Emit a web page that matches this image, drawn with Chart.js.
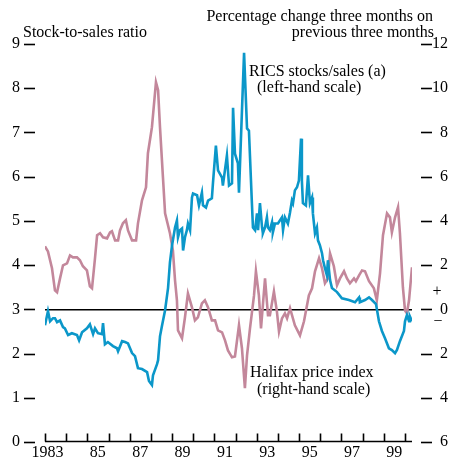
<!DOCTYPE html>
<html>
<head>
<meta charset="utf-8">
<script src="https://cdn.jsdelivr.net/npm/chart.js@4.4.1/dist/chart.umd.min.js"></script>
<style>
  body { margin: 0; background: #fff; }
  canvas { display: block; }
</style>
</head>
<body>
<canvas id="grafico" width="452" height="457"></canvas>
<script>
// RICS stocks/sales ratio (left-hand scale)
const ricsYears = [1983.00, 1983.14, 1983.24, 1983.38, 1983.47, 1983.57, 1983.71, 1983.85, 1983.94, 1984.09,
  1984.27, 1984.51, 1984.61, 1984.75, 1984.98, 1985.12, 1985.27, 1985.36, 1985.50, 1985.69,
  1985.74, 1985.83, 1985.97, 1986.21, 1986.40, 1986.45, 1986.64, 1986.78, 1986.92, 1987.11,
  1987.25, 1987.39, 1987.58, 1987.82, 1987.91, 1988.05, 1988.10, 1988.29, 1988.34, 1988.43,
  1988.52, 1988.67, 1988.81, 1988.90, 1989.00, 1989.14, 1989.23, 1989.28, 1989.37, 1989.47,
  1989.52, 1989.61, 1989.70, 1989.75, 1989.85, 1989.94, 1989.99, 1990.18, 1990.27, 1990.41,
  1990.46, 1990.60, 1990.70, 1990.88, 1990.93, 1991.07, 1991.17, 1991.36, 1991.40, 1991.59,
  1991.69, 1991.83, 1991.88, 1991.97, 1992.11, 1992.16, 1992.40, 1992.54, 1992.63, 1992.77,
  1992.82, 1992.92, 1993.01, 1993.06, 1993.15, 1993.25, 1993.29, 1993.39, 1993.48, 1993.53,
  1993.62, 1993.72, 1993.76, 1993.86, 1994.00, 1994.19, 1994.24, 1994.33, 1994.47, 1994.57,
  1994.66, 1994.71, 1994.80, 1994.90, 1994.99, 1995.09, 1995.13, 1995.18, 1995.32, 1995.42,
  1995.51, 1995.61, 1995.65, 1995.75, 1995.84, 1995.89, 1995.98, 1996.08, 1996.13, 1996.22,
  1996.31, 1996.36, 1996.46, 1996.55, 1996.79, 1997.02, 1997.35, 1997.64, 1997.83, 1997.87,
  1998.11, 1998.30, 1998.44, 1998.63, 1998.77, 1998.91, 1999.05, 1999.24, 1999.38, 1999.53,
  1999.62, 1999.76, 1999.95, 2000.00, 2000.09, 2000.19, 2000.23, 2000.33];
const ricsRatio = [2.64, 2.96, 2.73, 2.80, 2.80, 2.71, 2.75, 2.60, 2.57, 2.42,
  2.46, 2.42, 2.30, 2.48, 2.57, 2.66, 2.44, 2.57, 2.46, 2.44,
  2.69, 2.21, 2.26, 2.17, 2.12, 2.05, 2.28, 2.26, 2.23, 2.01,
  1.94, 1.67, 1.65, 1.58, 1.38, 1.29, 1.51, 1.76, 1.85, 2.39,
  2.62, 2.98, 3.48, 4.06, 4.45, 4.85, 5.01, 4.63, 4.79, 4.83,
  4.33, 4.63, 4.79, 4.94, 4.79, 5.53, 5.62, 5.58, 5.35, 5.64,
  5.35, 5.30, 5.46, 5.51, 5.85, 6.70, 6.14, 5.98, 5.80, 6.48,
  5.80, 5.85, 7.56, 6.52, 6.30, 5.64, 8.80, 7.09, 7.04, 5.40,
  4.85, 4.79, 5.17, 4.79, 5.40, 4.85, 4.72, 4.85, 5.08, 4.85,
  4.79, 4.97, 4.74, 4.94, 4.94, 5.08, 4.79, 5.08, 4.94, 5.19,
  5.46, 5.40, 5.69, 5.76, 5.91, 6.86, 5.91, 5.40, 5.35, 6.03,
  5.40, 5.53, 5.17, 4.72, 4.85, 4.56, 4.45, 4.27, 4.11, 3.93,
  3.77, 4.11, 3.66, 3.48, 3.39, 3.25, 3.21, 3.16, 3.27, 3.16,
  3.21, 3.27, 3.21, 3.12, 2.73, 2.51, 2.35, 2.12, 2.08, 2.01,
  2.08, 2.28, 2.51, 2.73, 2.87, 2.73, 2.84, 2.73];

// Halifax house price index, % change 3m on previous 3m (right-hand scale)
const halifaxYears = [1983.00, 1983.14, 1983.33, 1983.47, 1983.57, 1983.71, 1983.85, 1984.04, 1984.18, 1984.32,
  1984.51, 1984.65, 1984.79, 1984.98, 1985.12, 1985.22, 1985.36, 1985.46, 1985.60, 1985.74,
  1985.93, 1986.07, 1986.16, 1986.31, 1986.45, 1986.54, 1986.68, 1986.82, 1986.92, 1987.11,
  1987.30, 1987.39, 1987.58, 1987.77, 1987.86, 1988.05, 1988.24, 1988.34, 1988.43, 1988.57,
  1988.67, 1988.90, 1989.04, 1989.14, 1989.23, 1989.28, 1989.47, 1989.61, 1989.75, 1989.94,
  1990.08, 1990.22, 1990.41, 1990.55, 1990.70, 1990.88, 1991.03, 1991.17, 1991.36, 1991.50,
  1991.64, 1991.83, 1991.97, 1992.16, 1992.30, 1992.44, 1992.54, 1992.68, 1992.87, 1992.96,
  1993.10, 1993.20, 1993.39, 1993.53, 1993.62, 1993.81, 1993.95, 1994.05, 1994.19, 1994.33,
  1994.43, 1994.57, 1994.80, 1995.04, 1995.23, 1995.46, 1995.61, 1995.75, 1995.94, 1996.08,
  1996.22, 1996.36, 1996.46, 1996.64, 1996.79, 1996.93, 1997.12, 1997.26, 1997.40, 1997.59,
  1997.68, 1997.83, 1997.97, 1998.11, 1998.30, 1998.53, 1998.67, 1998.82, 1998.96, 1999.15,
  1999.29, 1999.38, 1999.53, 1999.67, 1999.76, 1999.90, 2000.00, 2000.09, 2000.19, 2000.33];
const halifaxChange = [2.85, 2.62, 1.86, 0.86, 0.77, 1.40, 1.99, 2.08, 2.44, 2.35,
  2.35, 2.22, 1.95, 1.76, 1.04, 0.95, 2.31, 3.35, 3.44, 3.26,
  3.21, 3.48, 3.53, 3.12, 3.12, 3.57, 3.89, 4.03, 3.57, 3.12,
  3.12, 3.89, 4.93, 5.52, 7.06, 8.24, 10.27, 9.91, 8.24, 5.97,
  4.34, 3.44, 2.67, 1.31, 0.41, -0.95, -1.31, -0.36, 0.72, 0.09,
  -0.50, -0.36, 0.27, 0.41, 0.09, -0.50, -0.50, -0.95, -1.04, -1.40,
  -1.86, -2.17, -2.13, -0.72, -1.76, -3.57, -2.08, -0.86, 0.63, 1.72,
  0.63, -0.86, 1.40, -0.27, -0.27, 0.81, -0.09, -1.00, -0.41, -0.18,
  -0.41, 0.05, -0.72, -1.18, -0.54, 0.63, 0.95, 1.72, 2.31, 1.86,
  1.18, 1.40, 2.53, 1.95, 1.09, 1.40, 1.72, 1.40, 1.18, 1.40,
  1.27, 1.54, 1.76, 1.72, 1.27, 0.95, 0.41, 1.63, 3.35, 4.34,
  4.16, 3.48, 4.16, 4.62, 3.44, 1.00, -0.05, -0.18, 0.41, 1.90];

const yearTicks = [1983, 1984, 1985, 1986, 1987, 1988, 1989, 1990, 1991, 1992,
  1993, 1994, 1995, 1996, 1997, 1998, 1999, 2000];
const yearLabels = {1983: '1983', 1985: '85', 1987: '87', 1989: '89', 1991: '91',
  1993: '93', 1995: '95', 1997: '97', 1999: '99'};
const leftTicks = [0, 1, 2, 3, 4, 5, 6, 7, 8, 9];
const rightTicks = [-6, -4, -2, 0, 2, 4, 6, 8, 10, 12];

const azul = '#0b97c9';
const rosa = '#c3879b';
const fuente = '"Liberation Serif", "Times New Roman", serif';

// textos, rayitas de los ejes y linea base
const extras = {
  id: 'extras',
  afterDraw(chart) {
    const {ctx, chartArea, scales} = chart;
    ctx.save();
    ctx.strokeStyle = '#000';
    ctx.lineWidth = 1.6;

    // ticks de los ejes y (separados del area)
    scales.y.ticks.forEach(t => {
      const py = Math.round(scales.y.getPixelForValue(t.value)) + 0.5;
      ctx.beginPath();
      ctx.moveTo(chartArea.left - 21, py);
      ctx.lineTo(chartArea.left - 10, py);
      ctx.stroke();
    });
    scales.y1.ticks.forEach(t => {
      const py = Math.round(scales.y1.getPixelForValue(t.value)) + 0.5;
      ctx.beginPath();
      ctx.moveTo(chartArea.right + 9, py);
      ctx.lineTo(chartArea.right + 20, py);
      ctx.stroke();
    });

    // eje x: linea base con ticks hacia arriba
    const base = Math.round(chartArea.bottom) - 0.5;
    ctx.beginPath();
    ctx.moveTo(chartArea.left, base);
    ctx.lineTo(chartArea.right, base);
    scales.x.ticks.forEach(t => {
      const px = Math.round(scales.x.getPixelForValue(t.value)) + 0.5;
      ctx.moveTo(px, base);
      ctx.lineTo(px, base - 8);
    });
    ctx.stroke();

    ctx.fillStyle = '#000';
    ctx.font = '16px ' + fuente;
    ctx.textBaseline = 'middle';
    ctx.textAlign = 'left';
    ctx.fillText('Stock-to-sales ratio', 23, 33);
    ctx.fillText('RICS stocks/sales (a)', 249, 72);
    ctx.fillText('(left-hand scale)', 257, 88);
    ctx.fillText('Halifax price index', 250, 373);
    ctx.fillText('(right-hand scale)', 257, 390);
    ctx.textAlign = 'right';
    ctx.fillText('Percentage change three months on', 433, 17);
    ctx.fillText('previous three months', 434, 33);
    ctx.textAlign = 'center';
    ctx.fillText('+', 437, 292);
    ctx.fillText('\u2212', 438, 322);
    ctx.restore();
  }
};

document.addEventListener('DOMContentLoaded', () => {
  const canvas = document.getElementById('grafico');

  new Chart(canvas.getContext('2d'), {
    type: 'line',
    data: {
      datasets: [{
        label: 'RICS stocks/sales (a)',
        data: ricsYears.map((x, i) => ({x: x, y: ricsRatio[i]})),
        yAxisID: 'y',
        borderColor: azul,
        borderWidth: 2.6,
        pointRadius: 0,
        tension: 0
      }, {
        label: 'Halifax price index',
        data: halifaxYears.map((x, i) => ({x: x, y: halifaxChange[i]})),
        yAxisID: 'y1',
        borderColor: rosa,
        borderWidth: 2.6,
        pointRadius: 0,
        tension: 0
      }]
    },
    options: {
      responsive: false,
      animation: false,
      layout: {padding: {top: 44, right: 4, left: 0, bottom: 0}},
      plugins: {legend: {display: false}, tooltip: {enabled: false}},
      scales: {
        x: {
          type: 'linear',
          min: 1983,
          max: 2000.33,
          afterBuildTicks: s => { s.ticks = yearTicks.map(v => ({value: v})); },
          afterFit: s => { s.height = 15; },
          grid: {display: false, drawTicks: false},
          border: {display: false},
          ticks: {
            autoSkip: false,
            maxRotation: 0,
            align: 'end',
            labelOffset: 18.5,
            padding: 1,
            color: '#000',
            font: {family: fuente, size: 16},
            callback: v => yearLabels[v] || ''
          }
        },
        y: {
          position: 'left',
          min: 0,
          max: 9,
          afterBuildTicks: s => { s.ticks = leftTicks.map(v => ({value: v})); },
          afterFit: s => { s.width = 45; },
          grid: {display: false, drawTicks: true, tickLength: 22},
          border: {display: false},
          ticks: {padding: 3, color: '#000', font: {family: fuente, size: 16}}
        },
        y1: {
          position: 'right',
          min: -6,
          max: 12,
          afterBuildTicks: s => { s.ticks = rightTicks.map(v => ({value: v})); },
          afterFit: s => { s.width = 36; },
          grid: {
            drawOnChartArea: true,
            drawTicks: false,
            lineWidth: 1.4,
            color: c => (c.tick && c.tick.value === 0) ? '#000' : 'rgba(0,0,0,0)'
          },
          border: {display: false},
          ticks: {
            crossAlign: 'far',
            color: '#000',
            font: {family: fuente, size: 16},
            callback: v => String(Math.abs(v))
          }
        }
      }
    },
    plugins: [extras]
  });
});
</script>
</body>
</html>
